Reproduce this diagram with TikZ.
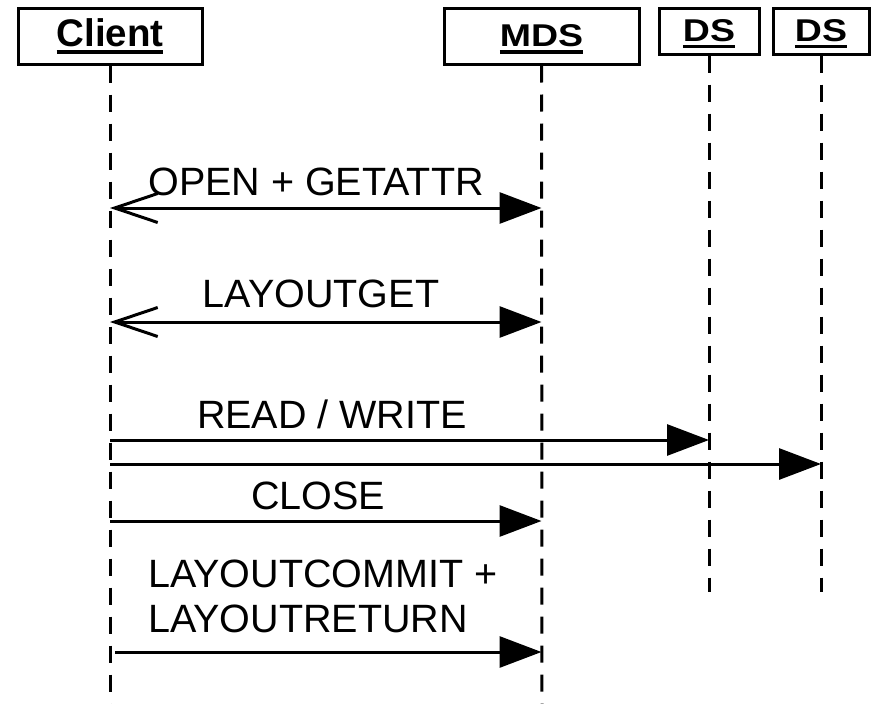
\documentclass[tikz,border=0pt]{standalone}
\usepackage{fontspec}
\setmainfont{Liberation Sans}
\usepackage{graphicx}
\usepackage{tikz}
\usetikzlibrary{arrows.meta,calc}

\newcommand{\ulhead}[2][1]{\setbox0\hbox{\scalebox{1}[#1]{\bfseries #2}}\rlap{\rule[-7pt]{\wd0}{3.5pt}}\box0}

\begin{document}
\begin{tikzpicture}[x=1pt, y=-1pt,
        font=\fontsize{39.5}{45}\selectfont,
        actor/.style={rectangle, draw, line width=3pt, inner sep=0pt, minimum height=56pt, text height=28pt, text depth=7pt, font=\fontsize{38.5}{45}\selectfont},
        lifeline/.style={line width=3pt, dash pattern=on 17pt off 12pt},
        msg/.style={line width=3pt, -{Triangle[length=42pt,width=31pt]}},
        reply/.style={line width=3pt, {Straight Barb[length=43pt,width=29pt]}-{Triangle[length=42pt,width=31pt]}},
        lbl/.style={inner sep=0pt, anchor=base}
    ]
        \useasboundingbox (0,0) rectangle (871,704);

        % Actors
        \node[actor, minimum width=184pt] (client) at (110,36) {\ulhead{Client}};
        \node[actor, minimum width=195pt, font=\fontsize{37.5}{45}\selectfont] (mds) at (541.5,36) {\ulhead[0.84]{MDS}};
        \node[actor, minimum width=100pt, minimum height=46pt, font=\fontsize{37.5}{45}\selectfont] (ds1) at (709,31) {\ulhead[0.84]{DS}};
        \node[actor, minimum width=96pt, minimum height=46pt, font=\fontsize{37.5}{45}\selectfont] (ds2) at (821,31) {\ulhead[0.84]{DS}};

        % Lifelines
        \coordinate (client-end) at (110,704);
        \coordinate (mds-end) at (542,704);
        \coordinate (ds1-end) at (709,592);
        \coordinate (ds2-end) at (821,592);
        \draw[lifeline] (client.south) -- (client-end);
        \draw[lifeline] (mds.south) -- (mds-end);
        \draw[lifeline] (ds1.south) -- (ds1-end);
        \draw[lifeline] (ds2.south) -- (ds2-end);

        % Message rows
        \coordinate (r1) at (0,208);
        \coordinate (r2) at (0,322);
        \coordinate (r3) at (0,440);
        \coordinate (r4) at (0,464);
        \coordinate (r5) at (0,521);
        \coordinate (r6) at (0,652);

        % Messages
        \draw[reply] (client |- r1) -- (mds |- r1);
        \draw[reply] (client |- r2) -- (mds |- r2);
        \draw[msg] (client |- r3) -- (ds1 |- r3);
        \draw[msg] (client |- r4) -- (ds2 |- r4);
        \draw[msg] (client |- r5) -- (mds |- r5);
        \draw[msg] ([xshift=5pt]client |- r6) -- (mds |- r6);

        % Labels
        \node[lbl] (t-open) at (316,195) {OPEN + GETATTR};
        \node[lbl] (t-layoutget) at (321,307) {LAYOUTGET};
        \node[lbl] (t-rw) at (332,428) {READ / WRITE};
        \node[lbl] (t-close) at (318,509) {CLOSE};
        \node[inner sep=0pt, anchor=south west, align=left] (t-commit) at (148,633) {LAYOUTCOMMIT +\\LAYOUTRETURN};
    \end{tikzpicture}
\end{document}
